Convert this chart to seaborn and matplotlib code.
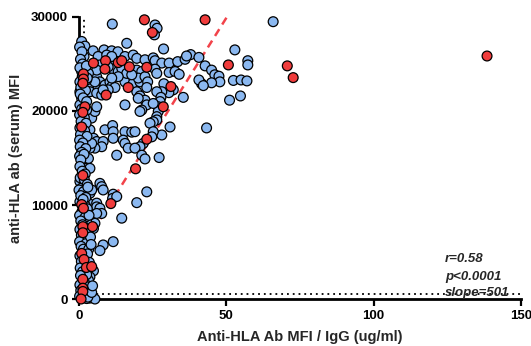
import matplotlib
matplotlib.use("Agg")
import matplotlib.pyplot as plt
import pandas as pd
import seaborn as sns

# Donors without the marker (blue) -- MFI/IgG ratio and serum MFI
blue_x = [
    65.9, 11.3, 25.8, 26.5, 25.6, 0.9, 2.0, 16.2, 28.7, 52.9, 1.7, 4.8, 8.5, 11.1, 13.2, 15.6,
    18.4, 19.6, 22.4, 25.2, 25.8, 28.1, 30.6, 33.5, 36.0, 37.9, 36.5, 40.7, 12.2, 11.6, 13.3,
    19.6, 21.3, 25.8, 26.4, 30.6, 32.6, 34.0, 42.8, 45.0, 46.1, 47.5, 47.8, 45.0, 41.6, 40.7,
    42.2, 52.4, 55.0, 57.3, 57.3, 57.0, 51.1, 54.8, 43.3, 30.9, 28.1, 35.4, 32.0, 28.8, 30.5,
    28.1,
    3.7, 6.0, 7.1, 5.4, 3.2, 3.7, 6.0, 7.7, 8.8, 10.5, 11.1, 12.2, 9.9, 8.2, 15.6, 18.4, 20.7,
    20.1, 22.4, 23.3, 23.0, 19.6, 20.7, 22.4, 20.1, 23.0, 15.6, 21.3, 26.4, 27.8, 27.5, 26.9,
    26.9, 26.4, 25.2,
    6.5, 9.4, 11.1, 7.1, 9.9, 14.5, 16.2, 17.9, 13.3, 11.1, 6.0, 5.4,
    3.7, 4.3, 5.4, 6.0, 20.7, 26.4, 25.2, 24.1, 8.8, 11.4, 11.6, 15.6, 17.9, 19.0, 25.2, 24.7,
    21.8, 20.7, 3.7, 4.9, 6.0, 8.2, 7.7, 5.4, 3.7, 4.3, 11.6, 15.0, 15.6, 16.7, 19.0, 12.8,
    21.3, 22.4, 27.2, 1.5, 2.6, 3.7, 2.0, 3.2, 7.1, 7.7, 8.2, 0.3, 0.9, 0.0, 1.5, 3.7, 4.3,
    11.6, 11.4, 12.8, 23.0, 19.6, 0.3, 3.2, 6.0,
    6.0, 7.1, 7.7, 6.0, 5.4, 4.9, 14.5, 2.6, 3.2, 11.6, 8.2, 7.1, 4.9, 3.7, 3.2, 3.7, 5.4,
    2.0, 2.6,
    0.9, 1.1, 0.3, 0.3, 0.9, 0.3, 2.6, 3.2, 2.6,
    0.2, 1.0, 0.5, 1.2, 0.3, 2.5, 2.8, 0.6, 2.2, 0.4, 1.4, 2.6, 0.9, 0.2, 1.8, 0.7, 2.4, 0.3,
    1.9, 0.5, 2.7, 0.2, 1.3, 0.4, 2.3, 0.9, 0.2, 1.7, 0.6, 0.3, 1.1, 2.1, 0.4, 1.8, 2.8, 0.6,
    2.3, 1.0, 0.2, 2.1, 0.6, 1.2, 0.3, 2.2, 0.8, 1.6, 0.2, 2.4, 0.7, 1.5, 0.3, 2.4, 0.8, 2.1,
    0.4, 1.2, 2.6, 0.5, 1.9, 0.3, 2.7, 0.6, 1.6, 0.2, 1.0, 3.0, 4.3, 2.2, 1.4, 3.0, 2.8, 3.4,
    3.9, 3.3, 2.9, 4.1, 4.6, 3.5,
]
blue_y = [
    29500, 29250, 29150, 28800, 28100, 27400, 26900, 27200, 26600, 26500, 25800, 26400, 26500,
    26400, 26300, 25800, 25950, 25600, 25450, 25650, 25350, 25100, 25100, 25250, 25500, 26000,
    25850, 25700, 24900, 24450, 24200, 24350, 24200, 24450, 24000, 24100, 24200, 23900, 24800,
    24350, 23850, 23700, 23100, 23000, 22900, 23300, 22700, 23250, 23300, 25350, 24900, 23200,
    21150, 21600, 18200, 18300, 17450, 21450, 22250, 22900, 21950, 22050,
    23850, 23650, 23100, 22750, 22600, 22050, 21900, 21700, 22750, 23100, 22600, 22500, 22250,
    22250, 23100, 22950, 23100, 23500, 23650, 23100, 22500, 22050, 21600, 21150, 21350, 20650,
    20650, 20100, 22050, 21450, 21000, 20450, 19950, 19400, 20800,
    25800, 25950, 25800, 24900, 24700, 24550, 24000, 23850, 23650, 23500, 24350, 23100,
    19600, 19250, 19950, 20450, 19950, 19050, 18850, 18700, 18000, 18450, 17800, 17800, 17750,
    17800, 17800, 17250, 16550, 16200, 18000, 17100, 16750, 16750, 16200, 16050, 16050, 16550,
    17100, 16900, 16550, 16050, 16050, 15300, 15300, 14900, 15050, 14450, 13900, 13900, 14950,
    14950, 12300, 11950, 11600, 12500, 11800, 11600, 11400, 11250, 11600, 11150, 10700, 10900,
    11400, 10250, 10350, 10200, 10200,
    9800, 9650, 9100, 9100, 8050, 7500, 8600, 8200, 7350, 6100, 5750, 5150, 3000, 2350, 2000,
    100, 0, 450, 50,
    24200, 23650, 23100, 22050, 21350, 20650, 20100, 24000, 23300,
    26800, 26300, 25500, 25000, 24600, 24800, 23500, 22500, 22200, 21800, 21400, 21000, 20200,
    19600, 19300, 18900, 18700, 18200, 17900, 17500, 17300, 16900, 16600, 16200, 16000, 15600,
    15200, 15400, 14800, 14100, 13600, 13300, 12900, 12700, 12200, 11000, 10800, 9300, 8900,
    8700, 8300, 7900, 7400, 7200, 6800, 6400, 6100, 5900, 5600, 5300, 4600, 4400, 4000, 3700,
    3300, 2900, 2600, 2500, 1700, 1500, 1300, 900, 600, 300, 100, 200, 700, 9900, 10600, 11900,
    9600, 8900, 6600, 5300, 4800, 5800, 1400, 3900,
]

# Donors with the marker (red)
red_x = [
    42.8, 22.2, 24.9, 70.7, 72.7, 138.5, 50.7, 4.9, 9.0, 8.8, 13.3, 14.5, 17.1, 23.0, 16.7,
    9.2, 31.2, 28.6, 23.0, 19.2, 10.8, 1.5, 1.5, 1.3, 2.0, 1.3, 0.9, 1.3, 0.9, 1.5, 1.3, 1.3,
    4.6, 0.9, 1.7, 2.5, 4.3, 1.3, 1.3, 1.3, 0.7,
]
red_y = [
    29700, 29700, 28350, 24800, 23550, 25850, 24900, 25100, 25350, 24450, 25150, 25350, 24700,
    24650, 22500, 21700, 22600, 20450, 17000, 13850, 10150, 23950, 23400, 22950, 20450, 19850,
    18300, 13150, 10050, 9650, 7700, 7050, 7700, 4850, 4200, 3350, 3450, 2100, 1150, 800, 0,
]

# Linear fit reported in the corner
fit_slope = 501
fit_intercept = 4850
fit_x = [0.0, 50.2]

threshold_mfi = 500
threshold_ratio = 1.8

x_ticks = [0, 50, 100, 150]
y_ticks = [0, 10000, 20000, 30000]
stats_lines = ["r=0.58", "p<0.0001", "slope=501"]
stats_y = [4260, 2340, 640]

sns.set_style("ticks")
plt.rcParams["font.family"] = ["Liberation Sans", "DejaVu Sans"]

fig = plt.figure(figsize=(5.31, 3.46), dpi=100)
ax = fig.add_axes([0.1488, 0.1358, 0.8322, 0.8151])

df = pd.DataFrame({
    "ratio": blue_x + red_x,
    "mfi": blue_y + red_y,
    "group": ["neg"] * len(blue_x) + ["pos"] * len(red_x),
})

dots = (0, (1, 2.2))
ax.axhline(threshold_mfi, color="black", lw=1.3, ls=dots, zorder=1)
ax.axvline(threshold_ratio, color="black", lw=1.3, ls=dots, zorder=1)

fit_y = [fit_intercept + fit_slope * v for v in fit_x]
sns.lineplot(x=fit_x, y=fit_y, ax=ax, color="#f2434a", lw=1.8,
             linestyle=(0, (3.2, 2.2)), zorder=2)

sns.scatterplot(data=df, x="ratio", y="mfi", hue="group",
                palette={"neg": "#8bb8f0", "pos": "#f03c3c"},
                s=50, edgecolor="black", linewidth=0.9, legend=False,
                ax=ax, zorder=5, clip_on=False)

ax.set_xlim(0, 150)
ax.set_ylim(0, 30000)
ax.set_xticks(x_ticks)
ax.set_yticks(y_ticks)
ax.set_xticklabels([str(v) for v in x_ticks], fontweight="bold", fontsize=9.5)
ax.set_yticklabels([str(v) for v in y_ticks], fontweight="bold", fontsize=9.5)
ax.tick_params(direction="out", length=5, width=1.6, pad=3, colors="black")

sns.despine(ax=ax)
for side in ("left", "bottom"):
    ax.spines[side].set_linewidth(2)
    ax.spines[side].set_color("black")

ax.set_xlabel("Anti-HLA Ab MFI / IgG (ug/ml)", fontweight="bold", fontsize=10.5, labelpad=6)
ax.set_ylabel("anti-HLA ab (serum) MFI", fontweight="bold", fontsize=10.5, labelpad=6)

for line, yv in zip(stats_lines, stats_y):
    ax.text(124.2, yv, line, fontsize=9.5, fontweight="bold", fontstyle="italic",
            ha="left", va="center", zorder=6)

fig.savefig("out.png", dpi=100)
